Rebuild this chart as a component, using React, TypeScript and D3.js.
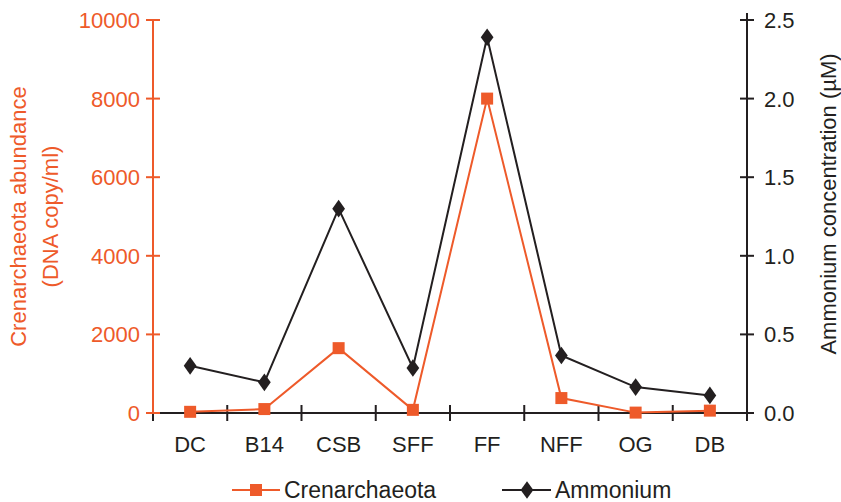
import React, { useEffect, useRef } from "react";
import * as d3 from "d3";

const sites = ["DC", "B14", "CSB", "SFF", "FF", "NFF", "OG", "DB"];
const crenarchaeota = [30, 100, 1650, 80, 8000, 380, 10, 60];
const ammonium = [0.3, 0.195, 1.3, 0.286, 2.39, 0.366, 0.165, 0.112];
const leftTicks = [0, 2000, 4000, 6000, 8000, 10000];
const rightTicks = [0, 0.5, 1.0, 1.5, 2.0, 2.5];

const ORANGE = "#EE5A2A";
const BLACK = "#231F20";

const App = () => {
  const svgRef = useRef<SVGSVGElement>(null);

  useEffect(() => {
    const width = 841;
    const height = 502;
    const m = { left: 153, right: 94, top: 20, bottom: 89 };
    const font = "'Liberation Sans', Arial, sans-serif";

    const svg = d3.select(svgRef.current);
    svg.selectAll("*").remove();
    svg.attr("width", width).attr("height", height).style("font-family", font);

    const x = d3
      .scaleBand()
      .domain(sites)
      .range([m.left, width - m.right]);
    const yL = d3.scaleLinear().domain([0, 10000]).range([height - m.bottom, m.top]);
    const yR = d3.scaleLinear().domain([0, 2.5]).range([height - m.bottom, m.top]);
    const y0 = height - m.bottom;
    const xr = width - m.right;

    // x axis with ticks at band edges
    svg
      .append("line")
      .attr("x1", m.left - 7)
      .attr("x2", xr)
      .attr("y1", y0)
      .attr("y2", y0)
      .attr("stroke", BLACK)
      .attr("stroke-width", 2);
    const edges = sites.map((s) => x(s)!).concat([xr]);
    svg
      .append("g")
      .selectAll("line")
      .data(edges)
      .join("line")
      .attr("x1", (d) => d)
      .attr("x2", (d) => d)
      .attr("y1", y0 - 8)
      .attr("y2", y0 + 8)
      .attr("stroke", BLACK)
      .attr("stroke-width", 2);
    svg
      .append("g")
      .selectAll("text")
      .data(sites)
      .join("text")
      .attr("x", (d) => x(d)! + x.bandwidth() / 2)
      .attr("y", y0 + 39)
      .attr("text-anchor", "middle")
      .attr("font-size", 22)
      .attr("fill", BLACK)
      .text((d) => d);

    // left axis
    svg
      .append("line")
      .attr("x1", m.left)
      .attr("x2", m.left)
      .attr("y1", yL(10000))
      .attr("y2", y0)
      .attr("stroke", ORANGE)
      .attr("stroke-width", 2);
    const gl = svg.append("g").selectAll("g").data(leftTicks).join("g");
    gl.append("line")
      .attr("x1", m.left - 7)
      .attr("x2", m.left + 7)
      .attr("y1", (d) => yL(d))
      .attr("y2", (d) => yL(d))
      .attr("stroke", ORANGE)
      .attr("stroke-width", 2);
    gl.append("text")
      .attr("x", m.left - 13)
      .attr("y", (d) => yL(d))
      .attr("dy", "0.36em")
      .attr("text-anchor", "end")
      .attr("font-size", 22)
      .attr("fill", ORANGE)
      .text((d) => d);

    // right axis
    svg
      .append("line")
      .attr("x1", xr)
      .attr("x2", xr)
      .attr("y1", yR(2.5) - 7)
      .attr("y2", y0)
      .attr("stroke", BLACK)
      .attr("stroke-width", 2);
    const gr = svg.append("g").selectAll("g").data(rightTicks).join("g");
    gr.append("line")
      .attr("x1", xr - 7)
      .attr("x2", xr + 7)
      .attr("y1", (d) => yR(d))
      .attr("y2", (d) => yR(d))
      .attr("stroke", BLACK)
      .attr("stroke-width", 2);
    gr.append("text")
      .attr("x", xr + 17)
      .attr("y", (d) => yR(d))
      .attr("dy", "0.36em")
      .attr("font-size", 22)
      .attr("fill", BLACK)
      .text((d) => d3.format(".1f")(d));

    // axis titles
    const lt = svg
      .append("text")
      .attr("transform", `translate(18,${(m.top + y0) / 2}) rotate(-90)`)
      .attr("text-anchor", "middle")
      .attr("font-size", 22)
      .attr("fill", ORANGE);
    lt.append("tspan").attr("x", 0).attr("dy", "0.36em").text("Crenarchaeota abundance");
    lt.append("tspan").attr("x", 0).attr("dy", "1.45em").text("(DNA copy/ml)");

    svg
      .append("text")
      .attr("transform", `translate(836,204) rotate(-90)`)
      .attr("text-anchor", "middle")
      .attr("font-size", 22)
      .attr("fill", BLACK)
      .text("Ammonium concentration (µM)");

    const cx = (_: any, i: number) => x(sites[i])! + x.bandwidth() / 2;

    // Crenarchaeota series
    svg
      .append("path")
      .datum(crenarchaeota)
      .attr("fill", "none")
      .attr("stroke", ORANGE)
      .attr("stroke-width", 2)
      .attr("d", d3.line<number>().x(cx).y((d) => yL(d)));
    svg
      .append("g")
      .selectAll("rect")
      .data(crenarchaeota)
      .join("rect")
      .attr("x", (d, i) => cx(d, i) - 6)
      .attr("y", (d) => yL(d) - 6)
      .attr("width", 12)
      .attr("height", 12)
      .attr("fill", ORANGE);

    // Ammonium series
    const diamond = d3.symbol().type(d3.symbolDiamond).size(90);
    svg
      .append("path")
      .datum(ammonium)
      .attr("fill", "none")
      .attr("stroke", BLACK)
      .attr("stroke-width", 2)
      .attr("d", d3.line<number>().x(cx).y((d) => yR(d)));
    svg
      .append("g")
      .selectAll("path")
      .data(ammonium)
      .join("path")
      .attr("transform", (d, i) => `translate(${cx(d, i)},${yR(d)}) scale(1.25,1)`)
      .attr("d", diamond)
      .attr("fill", BLACK);

    // legend
    const ly = 490;
    const leg = svg.append("g");
    leg.append("line").attr("x1", 232).attr("x2", 280).attr("y1", ly).attr("y2", ly)
      .attr("stroke", ORANGE).attr("stroke-width", 2);
    leg.append("rect").attr("x", 250).attr("y", ly - 6).attr("width", 12).attr("height", 12)
      .attr("fill", ORANGE);
    leg.append("text").attr("x", 284).attr("y", ly).attr("dy", "0.36em")
      .attr("font-size", 23).attr("fill", BLACK).text("Crenarchaeota");
    leg.append("line").attr("x1", 502).attr("x2", 551).attr("y1", ly).attr("y2", ly)
      .attr("stroke", BLACK).attr("stroke-width", 2);
    leg.append("path").attr("transform", `translate(527,${ly}) scale(1.25,1)`)
      .attr("d", diamond).attr("fill", BLACK);
    leg.append("text").attr("x", 555).attr("y", ly).attr("dy", "0.36em")
      .attr("font-size", 23).attr("fill", BLACK).text("Ammonium");
  }, []);

  return (
    <div style={{ position: "absolute", left: 0, top: 0 }}>
      <svg ref={svgRef}></svg>
    </div>
  );
};

export default App;
